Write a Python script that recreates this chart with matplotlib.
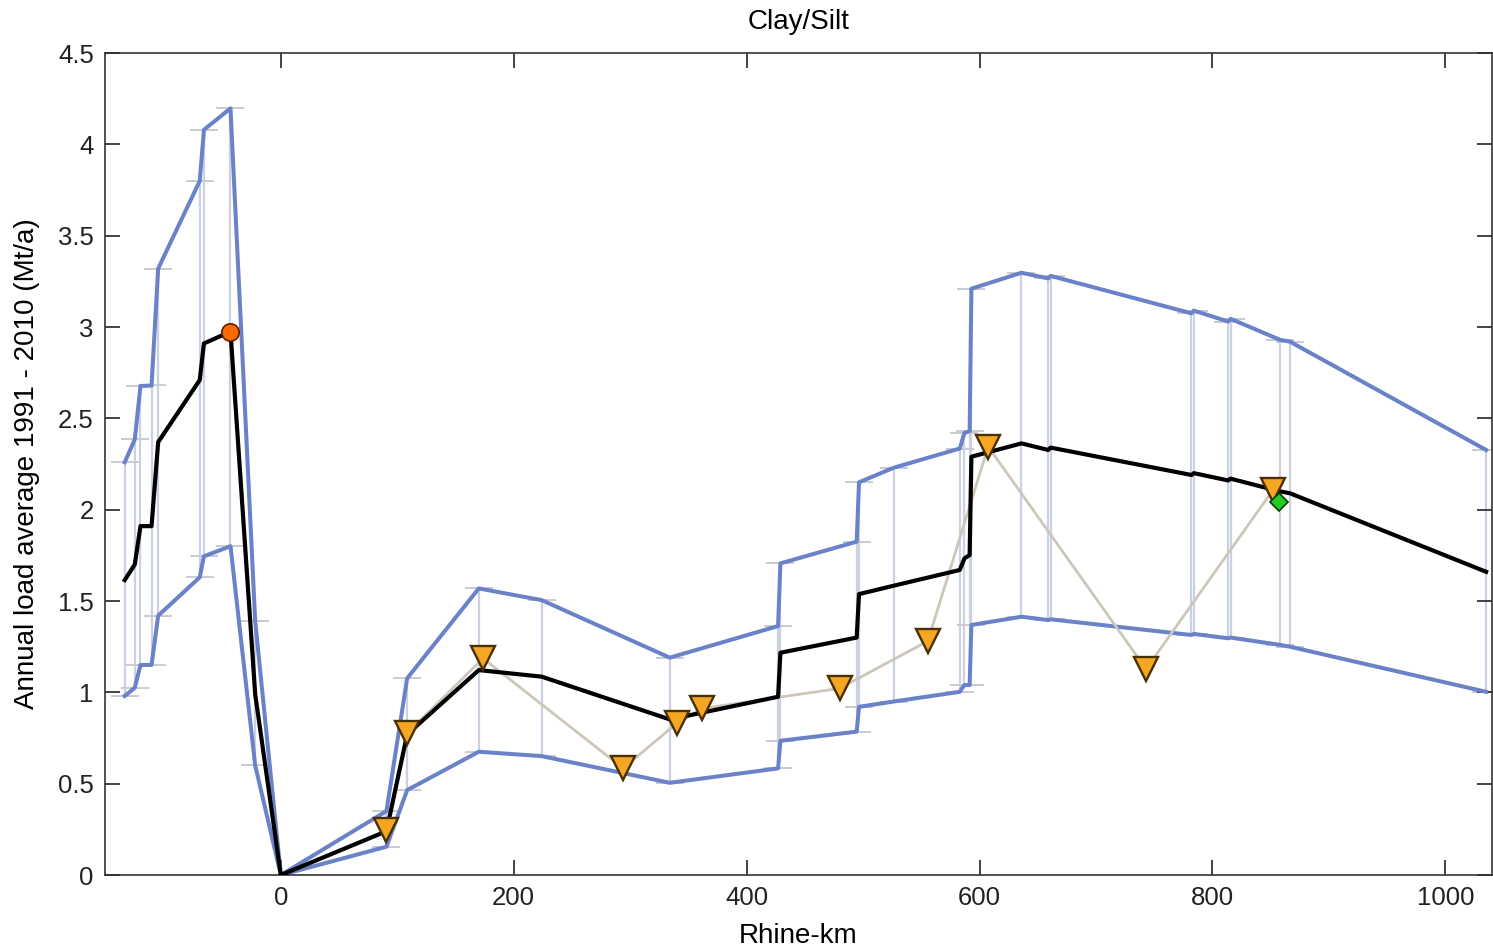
import numpy as np
import matplotlib
matplotlib.use("Agg")
import matplotlib.pyplot as plt

plt.rcParams["font.family"] = ["Liberation Sans", "DejaVu Sans"]

# stations along the river (pairs of close x mark the steps at tributaries)
rhine_km = [-134, -125.4, -120.5, -111, -105.3, -69.6, -66, -43.2, -22, 0,
            90.7, 108.5, 170, 224, 334, 427, 429, 494.5, 496.5, 526.4,
            583, 587, 591.5, 593, 636, 659, 661, 782, 784, 813.5, 815.5,
            858, 866.5, 1035]
load_mean = [1.615, 1.70, 1.91, 1.91, 2.37, 2.71, 2.91, 2.975, 0.99, 0,
             0.24, 0.77, 1.122, 1.086, 0.852, 0.976, 1.217, 1.30, 1.538, 1.584,
             1.67, 1.733, 1.752, 2.29, 2.363, 2.327, 2.34, 2.19, 2.20, 2.16, 2.17,
             2.10, 2.09, 1.66]
load_upper = [2.26, 2.385, 2.677, 2.68, 3.32, 3.80, 4.08, 4.197, 1.39, 0,
              0.35, 1.077, 1.569, 1.505, 1.19, 1.363, 1.706, 1.825, 2.15, 2.23,
              2.335, 2.42, 2.43, 3.21, 3.297, 3.266, 3.28, 3.075, 3.09, 3.03, 3.045,
              2.93, 2.92, 2.327]
load_lower = [0.98, 1.025, 1.15, 1.15, 1.42, 1.63, 1.745, 1.80, 0.60, 0,
              0.155, 0.465, 0.675, 0.651, 0.505, 0.584, 0.735, 0.785, 0.921, 0.95,
              1.003, 1.04, 1.04, 1.369, 1.414, 1.396, 1.40, 1.314, 1.32, 1.296, 1.30,
              1.26, 1.25, 1.003]

# measured values (triangles)
meas_km = [90.7, 108.5, 173.7, 294, 339.8, 362, 480, 555.6, 607.4, 743, 852]
meas_load = [0.246, 0.777, 1.186, 0.584, 0.83, 0.912, 1.022, 1.281, 2.345, 1.128, 2.108]

circle_km, circle_load = [-43.2], [2.975]
diamond_km, diamond_load = [857], [2.044]

yticks = [0, 0.5, 1, 1.5, 2, 2.5, 3, 3.5, 4, 4.5]
ytick_labels = ["0", "0.5", "1", "1.5", "2", "2.5", "3", "3.5", "4", "4.5"]
xticks = [0, 200, 400, 600, 800, 1000]

x = np.array(rhine_km)
mean = np.array(load_mean)
up = np.array(load_upper)
lo = np.array(load_lower)

fig = plt.figure(figsize=(14.93, 9.5), dpi=100)
ax = fig.add_axes([0.0703, 0.0789, 0.929, 0.8653])

# uncertainty bars
keep = x != 0
ax.vlines(x[keep], lo[keep], up[keep], color="#c9d1e2", lw=1.6, zorder=1)
for yy in (up[keep], lo[keep]):
    ax.plot(x[keep], yy, ls="none", marker="_", ms=20, mew=1.4,
            color="#c8cad4", zorder=1)

ax.plot(x, up, color="#6a82c8", lw=2.9, zorder=2)
ax.plot(x, lo, color="#6a82c8", lw=2.9, zorder=2)
ax.plot(meas_km, meas_load, color="#cdc6ba", lw=2.0, zorder=3)
ax.plot(x, mean, color="black", lw=3.0, zorder=4)

ax.plot(meas_km, meas_load, ls="none", marker="v", ms=17,
        mfc="#f5a623", mec="#4a3000", mew=1.7, zorder=5)
ax.plot(circle_km, circle_load, ls="none", marker="o", ms=12.5,
        mfc="#ff6a00", mec="#5a2000", mew=1.2, zorder=6)
ax.plot(diamond_km, diamond_load, ls="none", marker="D", ms=9.5,
        mfc="#22cc22", mec="#0a3a0a", mew=1.2, zorder=6)

ax.set_xlim(-151, 1040)
ax.set_ylim(0, 4.5)
ax.set_xticks(xticks)
ax.set_yticks(yticks)
ax.set_yticklabels(ytick_labels)
ax.tick_params(direction="in", length=11, width=1.2, labelsize=18.5,
               top=True, right=True, colors="#222222", pad=8)
for s in ax.spines.values():
    s.set_color("#333333")
    s.set_linewidth(1.2)

ax.set_title("Clay/Silt", fontsize=20, pad=17)
ax.set_xlabel("Rhine-km", fontsize=20, labelpad=9)
ax.set_ylabel("Annual load average 1991 - 2010 (Mt/a)", fontsize=20, labelpad=13)

fig.savefig("out.png", dpi=100)
